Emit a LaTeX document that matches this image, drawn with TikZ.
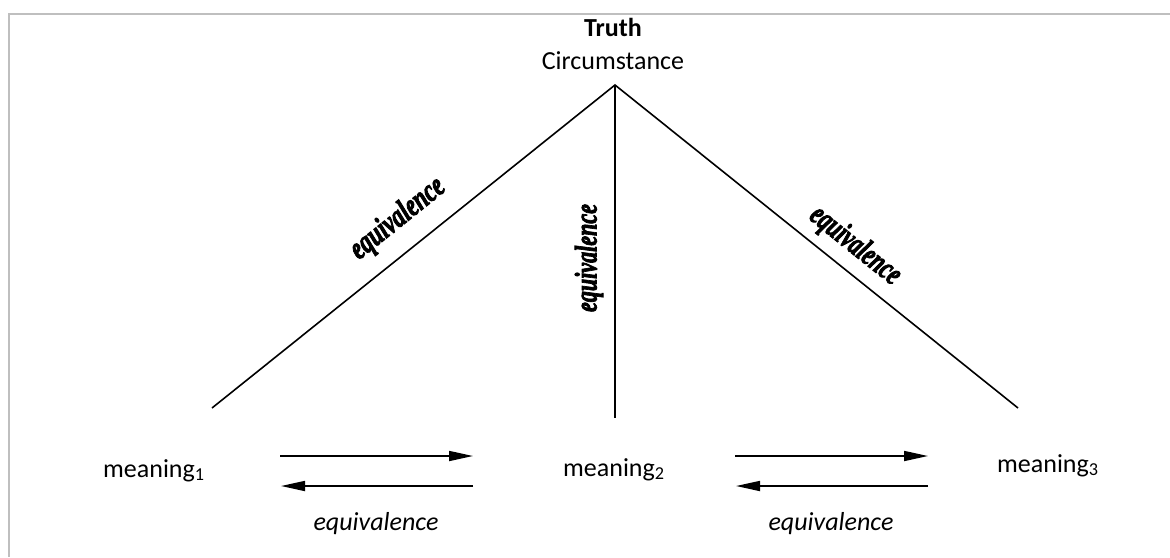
\documentclass[tikz,border=0pt]{standalone}
\usepackage{fontspec}
\setmainfont{Carlito}
\newfontfamily\eqfont[FakeBold=3]{Liberation Serif Bold Italic}
\usetikzlibrary{arrows.meta}
\begin{document}
\begin{tikzpicture}[x=1pt,y=-1pt,
  txt/.style={font=\fontsize{26}{30}\selectfont, inner sep=0pt},
  eqv/.style={font=\eqfont\fontsize{24}{28}\selectfont, inner sep=0pt},
  edgeline/.style={line width=1.6pt},
  arr/.style={line width=1.7pt, -{Triangle[length=24pt,width=10pt]}},
  framebar/.style={draw=black!25, line width=2pt}]
\useasboundingbox (0,0) rectangle (1170,557);
\draw[framebar] (9,557) -- (9,14) -- (1170,14);
% top labels
\node[txt, anchor=base] (truth) at (613,36) {\bfseries Truth};
\node[txt, anchor=base] (circ) at (613,69) {Circumstance};
% lines
\coordinate (apex) at (615,85);
\coordinate (lend) at (212,408);
\coordinate (mend) at (615,418);
\coordinate (rend) at (1018,408);
\draw[edgeline] (lend) -- (apex) -- (rend);
\draw[edgeline] (apex) -- (mend);
% rotated labels
\node[eqv, rotate=38.7] (eqL) at (398,219) {\scalebox{0.96}[1.35]{equivalence}};
\node[eqv, rotate=90] (eqM) at (589,258) {\scalebox{0.92}[1.3]{equivalence}};
\node[eqv, rotate=-38.7] (eqR) at (855,246) {\scalebox{0.92}[1.35]{equivalence}};
% meanings
\node[txt, anchor=base west] (m1) at (103,477) {meaning\textsubscript{1}};
\node[txt, anchor=base west] (m2) at (563,476) {meaning\textsubscript{2}};
\node[txt, anchor=base west] (m3) at (997,472) {meaning\textsubscript{3}};
% arrows
\coordinate (a1s) at (280,456); \coordinate (a1e) at (473,456);
\coordinate (b1s) at (473,486); \coordinate (b1e) at (281,486);
\coordinate (a2s) at (735,456); \coordinate (a2e) at (928,456);
\coordinate (b2s) at (928,486); \coordinate (b2e) at (736,486);
\draw[arr] (a1s) -- (a1e);
\draw[arr] (b1s) -- (b1e);
\draw[arr] (a2s) -- (a2e);
\draw[arr] (b2s) -- (b2e);
\node[txt, anchor=base, font=\fontsize{26}{30}\selectfont\itshape] (e1) at (376,530) {equivalence};
\node[txt, anchor=base, font=\fontsize{26}{30}\selectfont\itshape] (e2) at (831,530) {equivalence};
\end{tikzpicture}
\end{document}
